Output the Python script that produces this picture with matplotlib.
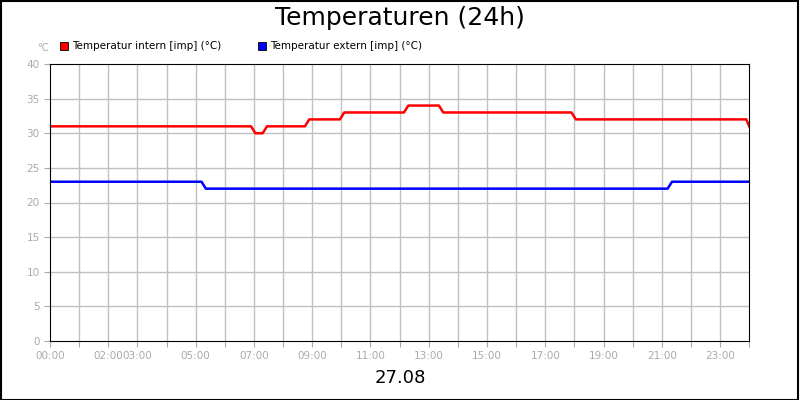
import matplotlib
matplotlib.use("Agg")
import matplotlib.pyplot as plt

intern_t = [0, 6.9, 7.05, 7.3, 7.45, 8.75, 8.9, 9.95, 10.1, 12.15, 12.3, 13.35, 13.5, 17.9, 18.05, 23.9, 24]
intern_v = [31, 31, 30, 30, 31, 31, 32, 32, 33, 33, 34, 34, 33, 33, 32, 32, 31]
extern_t = [0, 5.2, 5.35, 21.2, 21.35, 24]
extern_v = [23, 23, 22, 22, 23, 23]
tick_hours = [0, 2, 3, 5, 7, 9, 11, 13, 15, 17, 19, 21, 23]
tick_labels = ["00:00", "02:00", "03:00", "05:00", "07:00", "09:00", "11:00", "13:00", "15:00", "17:00", "19:00", "21:00", "23:00"]
yticks = [0, 5, 10, 15, 20, 25, 30, 35, 40]

fig = plt.figure(figsize=(8, 4), dpi=100)
fig.patches.append(plt.Rectangle((0.001, 0.001), 0.997, 0.996, transform=fig.transFigure,
                                 fill=False, edgecolor="black", linewidth=1.5))
ax = fig.add_axes([0.0625, 0.1475, 0.874, 0.6925])
grey = "#aaaaaa"
for h in range(1, 24):
    ax.axvline(h, color="#c0c0c0", lw=1, zorder=0)
for y in yticks[1:-1]:
    ax.axhline(y, color="#c0c0c0", lw=1, zorder=0)
ax.plot(intern_t, intern_v, color="#ff0000", lw=1.8, label="Temperatur intern [imp] (°C)")
ax.plot(extern_t, extern_v, color="#0000ff", lw=1.8, label="Temperatur extern [imp] (°C)")
ax.set_xlim(0, 24)
ax.set_ylim(0, 40)
ax.set_xticks(range(0, 25))
ax.set_xticklabels([tick_labels[tick_hours.index(h)] if h in tick_hours else "" for h in range(25)])
ax.set_yticks(yticks)
ax.tick_params(colors=grey, labelsize=7.5, length=4)
for s in ax.spines.values():
    s.set_color("black")
fig.text(0.5, 0.955, "Temperaturen (24h)", ha="center", va="center", fontsize=18)
fig.text(0.5, 0.055, "27.08", ha="center", va="center", fontsize=13)
fig.text(0.053, 0.88, "°C", ha="center", va="center", fontsize=7, color=grey)
fig.legend(loc="upper left", bbox_to_anchor=(0.063, 0.92), ncol=2, frameon=False,
           fontsize=7.5, handlelength=0.8, handleheight=0.8, columnspacing=3.5, handletextpad=0.4,
           handles=[plt.Rectangle((0, 0), 1, 1, fc="#ff0000", ec="black", lw=0.6),
                    plt.Rectangle((0, 0), 1, 1, fc="#0000ff", ec="black", lw=0.6)],
           labels=["Temperatur intern [imp] (°C)", "Temperatur extern [imp] (°C)"])
fig.savefig("out.png")
